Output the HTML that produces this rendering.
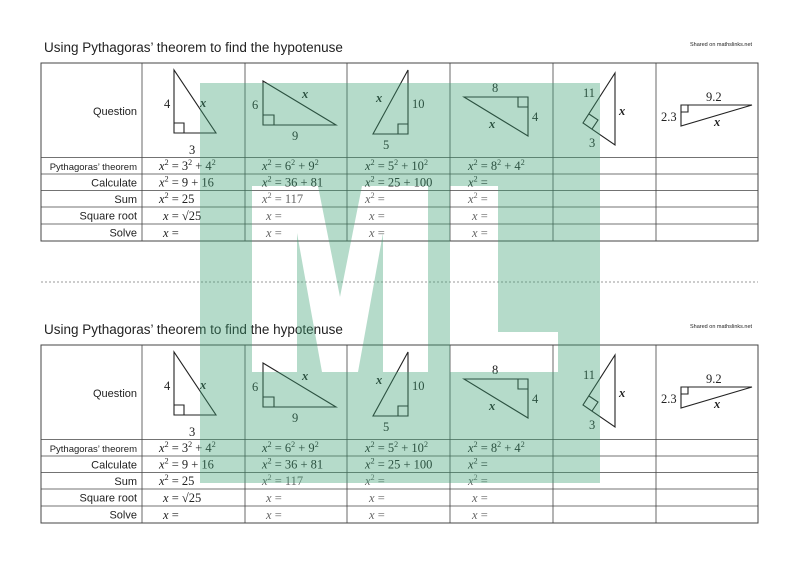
<!DOCTYPE html>
<html><head><meta charset="utf-8"><style>
html,body{margin:0;padding:0;background:#fff;}
svg{display:block;}
.t{font-family:"Liberation Sans",sans-serif;fill:#222;}
.m{font-family:"Liberation Serif",serif;font-size:12.5px;fill:#222;}
.mg{font-family:"Liberation Serif",serif;font-size:12.5px;fill:#666;}
.i{font-style:italic;}
.tri{fill:none;stroke:#222;stroke-width:1.1;}
</style></head><body>
<svg width="800" height="566" viewBox="0 0 800 566" xmlns="http://www.w3.org/2000/svg">
<defs>
<g id="tbl">
  <text class="t" x="44" y="52" font-size="13.5">Using Pythagoras’ theorem to find the hypotenuse</text>
  <text class="t" x="690" y="46" font-size="5.5" fill="#444">Shared on mathslinks.net</text>
  <rect x="41" y="63" width="717" height="178" fill="none" stroke="#444" stroke-width="1"/>
  <g stroke="#444" stroke-width="0.8">
    <line x1="142" y1="63" x2="142" y2="241"/><line x1="245" y1="63" x2="245" y2="241"/>
    <line x1="347" y1="63" x2="347" y2="241"/><line x1="450" y1="63" x2="450" y2="241"/>
    <line x1="553" y1="63" x2="553" y2="241"/><line x1="656" y1="63" x2="656" y2="241"/>
    <line x1="41" y1="157.5" x2="758" y2="157.5"/><line x1="41" y1="174" x2="758" y2="174"/>
    <line x1="41" y1="190.5" x2="758" y2="190.5"/><line x1="41" y1="207" x2="758" y2="207"/>
    <line x1="41" y1="224" x2="758" y2="224"/>
  </g>
  <g class="t" text-anchor="end" font-size="11">
    <text x="137" y="115">Question</text>
    <text x="137" y="170" font-size="9.5">Pythagoras’ theorem</text>
    <text x="137" y="186.5">Calculate</text>
    <text x="137" y="203">Sum</text>
    <text x="137" y="219.5">Square root</text>
    <text x="137" y="236.5">Solve</text>
  </g>
  <!-- triangles -->
  <path class="tri" d="M174 70 L174 133 L216 133 Z M174 123 H184 V133"/>
  <text class="m" x="164" y="108">4</text><text class="m" x="189" y="154">3</text><text class="m i" x="200" y="107" font-weight="bold" font-size="11">x</text>
  <path class="tri" d="M263 81 L263 125 L336 125 Z M263 115 H274 V125"/>
  <text class="m" x="252" y="109">6</text><text class="m" x="292" y="140">9</text><text class="m i" x="302" y="98" font-weight="bold" font-size="11">x</text>
  <path class="tri" d="M408 70 L408 134 L373 134 Z M398 134 V124 H408"/>
  <text class="m i" x="376" y="102" font-weight="bold" font-size="11">x</text><text class="m" x="412" y="108">10</text><text class="m" x="383" y="149">5</text>
  <path class="tri" d="M464 97 L528 97 L528 136 Z M518 97 V107 H528"/>
  <text class="m" x="492" y="92">8</text><text class="m" x="532" y="121">4</text><text class="m i" x="489" y="128" font-weight="bold" font-size="11">x</text>
  <path class="tri" d="M615 73 L615 145 L583 123 Z M589 114 L598 120 L592 129"/>
  <text class="m" x="583" y="97">11</text><text class="m i" x="619" y="115" font-weight="bold" font-size="11">x</text><text class="m" x="589" y="147">3</text>
  <path class="tri" d="M681 105 L752 105 L681 126 Z M681 112 H688 V105"/>
  <text class="m" x="706" y="101">9.2</text><text class="m" x="661" y="121">2.3</text><text class="m i" x="714" y="126" font-weight="bold" font-size="11">x</text>
  <!-- maths -->
  <g class="m">
    <text x="159" y="170"><tspan class="i">x</tspan><tspan font-size="8" dy="-5">2</tspan><tspan dy="5"> = 3</tspan><tspan font-size="8" dy="-5">2</tspan><tspan dy="5"> + 4</tspan><tspan font-size="8" dy="-5">2</tspan></text>
    <text x="159" y="186.5"><tspan class="i">x</tspan><tspan font-size="8" dy="-5">2</tspan><tspan dy="5"> = 9 + 16</tspan></text>
    <text x="159" y="203"><tspan class="i">x</tspan><tspan font-size="8" dy="-5">2</tspan><tspan dy="5"> = 25</tspan></text>
    <text x="163" y="220"><tspan class="i">x</tspan> = √25</text>
    <text x="163" y="237"><tspan class="i">x</tspan> =</text>
    <text x="262" y="170"><tspan class="i">x</tspan><tspan font-size="8" dy="-5">2</tspan><tspan dy="5"> = 6</tspan><tspan font-size="8" dy="-5">2</tspan><tspan dy="5"> + 9</tspan><tspan font-size="8" dy="-5">2</tspan></text>
    <text x="262" y="186.5"><tspan class="i">x</tspan><tspan font-size="8" dy="-5">2</tspan><tspan dy="5"> = 36 + 81</tspan></text>
    <text x="365" y="170"><tspan class="i">x</tspan><tspan font-size="8" dy="-5">2</tspan><tspan dy="5"> = 5</tspan><tspan font-size="8" dy="-5">2</tspan><tspan dy="5"> + 10</tspan><tspan font-size="8" dy="-5">2</tspan></text>
    <text x="365" y="186.5"><tspan class="i">x</tspan><tspan font-size="8" dy="-5">2</tspan><tspan dy="5"> = 25 + 100</tspan></text>
    <text x="468" y="170"><tspan class="i">x</tspan><tspan font-size="8" dy="-5">2</tspan><tspan dy="5"> = 8</tspan><tspan font-size="8" dy="-5">2</tspan><tspan dy="5"> + 4</tspan><tspan font-size="8" dy="-5">2</tspan></text>
    <text x="468" y="186.5"><tspan class="i">x</tspan><tspan font-size="8" dy="-5">2</tspan><tspan dy="5"> =</tspan></text>
  </g>
  <g class="mg">
    <text x="262" y="203"><tspan class="i">x</tspan><tspan font-size="8" dy="-5">2</tspan><tspan dy="5"> = 117</tspan></text>
    <text x="266" y="220"><tspan class="i">x</tspan> =</text><text x="266" y="237"><tspan class="i">x</tspan> =</text>
    <text x="365" y="203"><tspan class="i">x</tspan><tspan font-size="8" dy="-5">2</tspan><tspan dy="5"> =</tspan></text>
    <text x="369" y="220"><tspan class="i">x</tspan> =</text><text x="369" y="237"><tspan class="i">x</tspan> =</text>
    <text x="468" y="203"><tspan class="i">x</tspan><tspan font-size="8" dy="-5">2</tspan><tspan dy="5"> =</tspan></text>
    <text x="472" y="220"><tspan class="i">x</tspan> =</text><text x="472" y="237"><tspan class="i">x</tspan> =</text>
  </g>
</g>
</defs>
<use href="#tbl"/>
<use href="#tbl" transform="translate(0,282)"/>
<line x1="41" y1="282" x2="758" y2="282" stroke="#777" stroke-width="0.8" stroke-dasharray="2,2"/>
<path fill="rgb(60,160,115)" fill-opacity="0.38" fill-rule="evenodd" d="M200 83 H600 V483 H200 Z
 M252 186 L318 186 L340 297 L362 186 L428 186 L428 372 L383 372 L383 233 L358 372 L322 372 L297 233 L297 372 L252 372 Z
 M450 186 L498 186 L498 332 L558 332 L558 372 L450 372 Z"/>
</svg>
</body></html>
